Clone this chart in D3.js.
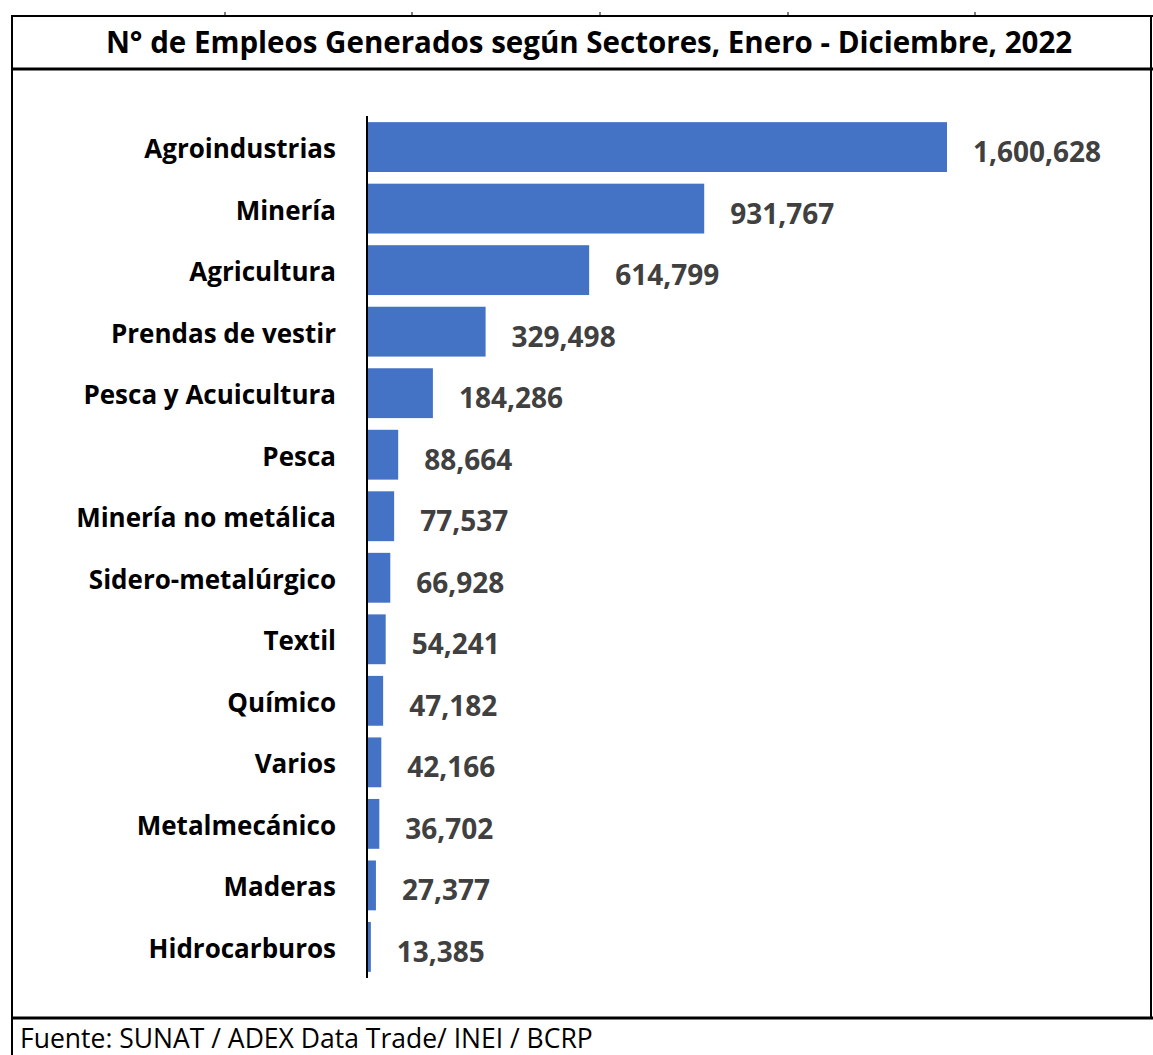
<!DOCTYPE html>
<html><head><meta charset="utf-8">
<script src="https://cdn.jsdelivr.net/npm/d3@7"></script>
<style>body{margin:0;background:#fff}svg{display:block}</style>
</head><body>
<script>
const categories = ["Agroindustrias","Minería","Agricultura","Prendas de vestir","Pesca y Acuicultura","Pesca","Minería no metálica","Sidero-metalúrgico","Textil","Químico","Varios","Metalmecánico","Maderas","Hidrocarburos"];
const values = [1600628,931767,614799,329498,184286,88664,77537,66928,54241,47182,42166,36702,27377,13385];
const title = "N° de Empleos Generados según Sectores, Enero - Diciembre, 2022";
const source = "Fuente: SUNAT / ADEX Data Trade/ INEI / BCRP";

const W = 1153, H = 1055;
const svg = d3.select("body").append("svg").attr("width", W).attr("height", H);
const font = "'Open Sans', sans-serif";

// frame
svg.append("line").attr("x1",12).attr("x2",W).attr("y1",16).attr("y2",16).attr("stroke","#000").attr("stroke-width",2);
[225,412,600,788,975].forEach(x=>svg.append("line").attr("x1",x).attr("x2",x).attr("y1",12).attr("y2",16).attr("stroke","#000").attr("stroke-width",1));
svg.append("line").attr("x1",12).attr("x2",W).attr("y1",69).attr("y2",69).attr("stroke","#000").attr("stroke-width",3);
svg.append("line").attr("x1",12).attr("x2",W).attr("y1",1018).attr("y2",1018).attr("stroke","#000").attr("stroke-width",3);
svg.append("line").attr("x1",12).attr("x2",12).attr("y1",15).attr("y2",H).attr("stroke","#000").attr("stroke-width",2);
svg.append("line").attr("x1",1151).attr("x2",1151).attr("y1",15).attr("y2",1018).attr("stroke","#000").attr("stroke-width",2);

svg.append("text").attr("x",589).attr("y",53).attr("text-anchor","middle")
  .attr("font-family",font).attr("font-weight","bold").attr("font-size",29.5)
  .attr("fill","#000").text(title);

svg.append("text").attr("x",20).attr("y",1048).attr("font-family",font)
  .attr("font-size",26.5).attr("fill","#000").text(source);

const x = d3.scaleLinear().domain([0,1600628]).range([366,947]);
const y = d3.scaleBand().domain(categories).range([116,978]).paddingInner(0.19).paddingOuter(0.1);

svg.selectAll("rect.bar").data(categories).join("rect").attr("class","bar")
  .attr("x",x(0)).attr("y",d=>y(d)).attr("height",y.bandwidth())
  .attr("width",(d,i)=>x(values[i])-x(0)).attr("fill","#4472C4");

svg.append("g").attr("transform",`translate(367,0)`)
  .call(d3.axisLeft(y).tickSize(0).tickPadding(31))
  .call(g=>g.select(".domain").attr("stroke","#000").attr("stroke-width",2).attr("d","M0,116V978"))
  .call(g=>g.selectAll("text").attr("font-family",font).attr("font-weight","bold").attr("font-size",26).attr("fill","#000").attr("dy",null).attr("y",11));

const fmt = d3.format(",");
svg.selectAll("text.val").data(categories).join("text").attr("class","val")
  .attr("x",(d,i)=>x(values[i])+26).attr("y",d=>y(d)+y.bandwidth()/2+15)
  .attr("font-family",font).attr("font-weight","bold").attr("font-size",28)
  .attr("fill","#404040").text((d,i)=>fmt(values[i]));
</script>
</body></html>
